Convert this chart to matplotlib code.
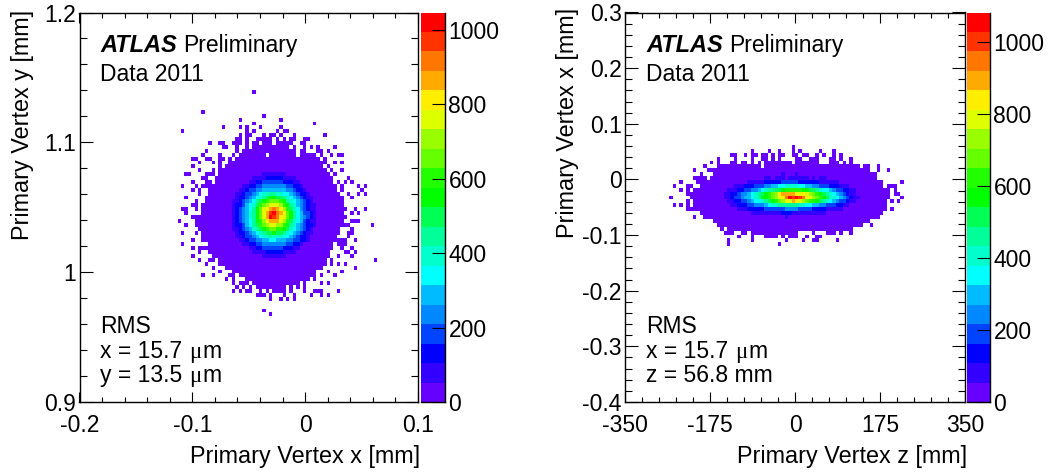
import numpy as np
import matplotlib
matplotlib.use("Agg")
import matplotlib.pyplot as plt
from matplotlib.colors import ListedColormap, BoundaryNorm
from matplotlib.ticker import MultipleLocator

plt.rcParams['font.family'] = ['Liberation Sans', 'DejaVu Sans']
W, H = 1050, 473

BAND_COLORS = ['#6600ff', '#3300ff', '#0000ff', '#0044ff', '#0088ff', '#00bbff', '#00ffff',
               '#00ffcc', '#00ff99', '#00ff55', '#00ff00', '#22ff00', '#66ff00', '#99ff00',
               '#ddff00', '#ffee00', '#ffaa00', '#ff7700', '#ff3300', '#ff0000']
BAND_CODES = '0123456789abcdefghij'
LEFT_ZMAX = 1046
RIGHT_ZMAX = 1083

D = '..........'
F = '##########'

# Left panel, cells: first row is bin 79 counted from the bottom,
# first character is bin 29 counted from the left.
LEFT_TOP_ROW, LEFT_FIRST_COL = 79, 29
LEFT_MASK = [
    D + D + '..#.......', '', '', '', '',
    '.......#..',
    D + D + '.....#....',
    D + '........#.' + D + '#.........',
    D + D + '..#.......' + D + '#.........',
    D + '...#....#.' + '#...#.....' + '#.........',
    '.#........' + D + '#.#......#' + '.##.......',
    D + '........#.' + '##...#.##.' + '#...#.....' + '...#......',
    D + '.......##.' + '#..#####.#' + '.#.##..##.',
    '.........#' + '..##..###.' + '#.##.###.#' + '####..##..',
    D + '...##..#..' + '#.########' + '###.#..#.#' + '.#....#...',
    '........#.' + '.......#.#' + F + '#####.##..' + '.##.#.....',
    '.......#..' + '..#...#.##' + '######.###' + '#####.####' + '#.#..#.##.',
    '....##..##' + '..##.#.###' + F + F + '##.#......',
    '......#...' + '#.#..#####' + F + F + '####..#.#.',
    '....#.....' + '..#.######' + F + F + '###.#.....',
    '......#...' + '#.########' + F + F + '####.#..#.',
    '..##....##' + '#.########' + F + F + '#####.#...',
    '.......##.' + '.#########' + F + F + '######....' + '#........',
    '....#...##' + '.#########' + F + F + '######.#.#' + '.#.......',
    '.#...#.###' + F + F + F + '#######.#.' + '...#.#...',
    '....#.#..#' + F + F + F + '#######.#.' + '....#....',
    '......#..#' + F + F + F + '########..' + '#..#.#...',
    '..#.....##' + F + F + F + '#########.' + '.#.......',
    '.....#..##' + F + F + F + '#########.',
    '....##.###' + F + F + F + '#########.',
    '.##..#.###' + F + F + F + F + '..#..#...',
    '..#....###' + F + F + F + '#########.' + '.#.#.....',
    '....######' + F + F + F + F,
    '#....#####' + F + F + F + '#########.' + '.###.....',
    '..#..#####' + F + F + F + F + '#......#.',
    '......####' + F + F + F + '########..' + '.#.......',
    '.#...#.###' + F + F + F + '########..' + '##.......',
    '.......###' + F + F + F + '#######...' + '#........',
    '....#..###' + F + F + F + F + '..#......',
    '.#.......#' + F + F + F + '######.###',
    '....#.####' + F + F + F + '######..#.' + '.#.......',
    '......#..#' + F + F + F + '#####....#' + '#.#......',
    '....#.....' + F + F + F + '#####..#..' + '.#.......',
    '......#..#' + '#.########' + F + F + '####.#....' + '........#',
    '........#.' + '..########' + F + F + '####.#.#.#',
    D + '#...######' + F + F + '###.......' + '..#......',
    D + '..#...####' + F + F + '#...#...#.',
    '.......#..' + '#....##.##' + F + F + '#.#...#...',
    D + '....#.#...' + F + '#########.' + '#.........',
    D + '......#.##' + '#.########' + '######.#..' + '..#.#.....',
    D + '.......#.#' + '.#.#######' + '##.#.#.#..',
    D + '......#.#.' + '##..#.#.##' + '##.#...#..' + '###....#..',
    D + D + '...###.#..' + '.#..#....#' + '..#.#.....',
    D + D + '.......#..' + '#.#.#.....',
    '', '',
    D + D + '.....#....',
    D + D + '.......#..',
]
LEFT_CORE_TOP_ROW, LEFT_CORE_FIRST_COL = 58, 44
LEFT_CORE = [
    '0000000000 1111111 0000000000',
    '0000000 1111 22222 1111 0000000',
    '000000 11 22 333333 222 11 000000',
    '0000 11 22 33 4444444 33 22 1 00000',
    '000112334 4555555 5443 22 1 0000',
    '001123345 677887766 5432 21 000',
    '00122345 6789aa998 7654321 100',
    '0112345 689abccc ba87654321 00',
    '01223567 9bcdeeed ba875432110',
    '01234568 acefghgfd b97643 21 10',
    '01234578 acegijhgeca86533210',
    '01234578 acegjihfeca86543210',
    '01234568 abdfgggedb97653 2110',
    '01223568 9bcdeeddba87 5432210',
    '01123457 89abccbba97654321 00',
    '00122345 67899a9987654321 100',
    '001123345 677877766 5432 21 000',
    '00011233 44556655 54433221 0000',
    '0000 11 22 33 4444444 33 22 1 00000',
    '000000 11 22 333333 222 11 000000',
    '0000000 1111 22222 1111 0000000',
    '0000000000 1111111 0000000000',
]

# Right panel: first row is bin 65 from the bottom, first character is bin 13 from the left.
RIGHT_TOP_ROW, RIGHT_FIRST_COL = 65, 13
RIGHT_MASK = [
    D + D + D + '......#...',
    D + D + '....#....#' + '..#...#.#.' + '....#...#.',
    D + '........##' + '..#.##.##.' + '#.##..##.#' + '#..#.#..#.' + '#.........',
    D + '....#....#' + '....#..##.' + '#.#....##.' + '.###...##.' + '#..#......',
    D + '..#.#...##' + '.##.#.#.##' + '######.###' + '####...###' + '.#.#......',
    D + '#...######' + '#######.##' + F + F + '######.##.' + '.#.......',
    '.......#..' + '.#########' + F + F + F + '#########.' + '.#..#....',
    '.........#' + '...#######' + F + F + F + F + '#........',
    '.......###' + '#.########' + F + F + F + F + '#........',
    '...#....##' + F + F + F + F + F + '###.....#',
    '.#...##..#' + F + F + F + F + F + '###.###..',
    '...#.#.###' + F + F + F + F + F + '#####.#..',
    '.....#####' + F + F + F + F + F + '#####.##.',
    '#.....####' + F + F + F + F + F + '#####...#',
    '.....#.###' + F + F + F + F + F + '####.#.#.',
    '.#.#.#.###' + F + F + F + F + F + '####.....',
    '.....#####' + F + F + F + F + F + '####.#...',
    '.........#' + F + F + F + F + F + '###......',
    '.......#..' + F + F + F + F + F + '##.......',
    D + '...#######' + F + F + F + '#########.',
    D + '....######' + F + F + F + '#######..#',
    D + '.....#.###' + F + F + F + '####......',
    D + '......###.' + '.##.######' + '########..' + '..#...###.' + '#..#......',
    D + D + '#...#...##' + '##.#.###..' + '#..##.....',
    D + '.......#..' + '....#.....' + '....#....#' + '..##.....#',
    D + '.......#..' + D + '..#.......',
]
RIGHT_CORE_TOP_ROW, RIGHT_CORE_FIRST_COL = 58, 29
RIGHT_CORE = [
    '0000000000 0000000100 0100000000 0000000000',
    '0000000000 0011011101 1111101011 0000000000',
    '0000000111 1122222333 3322222211 1111000000',
    '0001112223 3344556677 7766554433 3222111000',
    '0111223344 5678899abb bbbaa99876 6543322110',
    '1122344567 89abcdfggg gfefedcba9 8765432110',
    '1123345567 8aabcdefhj ijihfedcba 9776543211',
    '0112233456 6789abcdee gfedcbba98 7654332110',
    '0011222334 4456778888 8877665544 3332211000',
    '0000111222 2233333344 4433332222 1111100000',
    '0000000011 1111111222 1111111111 0000000000',
    '0000000000 0000000010 0000000000 0000000000',
]

LEFT_X_TICKS = [-0.2, -0.1, 0, 0.1]
LEFT_X_LABELS = ['-0.2', '-0.1', '0', '0.1']
LEFT_Y_TICKS = [0.9, 1.0, 1.1, 1.2]
LEFT_Y_LABELS = ['0.9', '1', '1.1', '1.2']
RIGHT_X_TICKS = [-350, -175, 0, 175, 350]
RIGHT_X_LABELS = ['-350', '-175', '0', '175', '350']
RIGHT_Y_TICKS = [-0.4, -0.3, -0.2, -0.1, 0, 0.1, 0.2, 0.3]
RIGHT_Y_LABELS = ['-0.4', '-0.3', '-0.2', '-0.1', '0', '0.1', '0.2', '0.3']
CBAR_TICKS = [0, 200, 400, 600, 800, 1000]

BLACK_LW = 1.0
TICK_LW = 0.8
FS = 16.5
TITLE_FS = 16.8
cmap = ListedColormap(BAND_COLORS)


def axes_px(x0, y0, x1, y1):
    return fig.add_axes([x0 / W, 1 - y1 / H, (x1 - x0) / W, (y1 - y0) / H])


def grid_from(mask, top, first, core, core_top, core_first):
    grid = np.full((100, 100), np.nan)
    for k, row in enumerate(mask):
        row = row.replace(' ', '')
        for c, ch in enumerate(row):
            if ch == '#':
                grid[top - k, first + c] = 0
    for k, row in enumerate(core):
        row = row.replace(' ', '')
        for c, ch in enumerate(row):
            if ch != '0':
                grid[core_top - k, core_first + c] = BAND_CODES.index(ch)
    return grid


def panel(box, cbar_box, grid, xlim, ylim, xt, xl, yt, yl, xminor, yminor, zmax):
    x0, y0, x1, y1 = box
    ax = axes_px(x0, y0, x1, y1)
    step = zmax / 20
    bounds = np.arange(21) * step
    norm = BoundaryNorm(bounds, 20)
    xe = np.linspace(xlim[0], xlim[1], 101)
    ye = np.linspace(ylim[0], ylim[1], 101)
    counts = (grid + 0.5) * step
    ax.pcolormesh(xe, ye, np.ma.masked_invalid(counts), cmap=cmap, norm=norm,
                  linewidth=0, rasterized=True)
    ax.set_xlim(xlim)
    ax.set_ylim(ylim)
    ax.set_xticks(xt)
    ax.set_xticklabels(xl, fontsize=FS)
    ax.set_yticks(yt)
    ax.set_yticklabels(yl, fontsize=FS)
    ax.xaxis.set_minor_locator(MultipleLocator(xminor))
    ax.yaxis.set_minor_locator(MultipleLocator(yminor))
    ax.tick_params(axis='x', which='major', direction='in', top=True, bottom=True, length=7,
                   width=TICK_LW, pad=9)
    ax.tick_params(axis='x', which='minor', direction='in', top=True, bottom=True, length=3.5,
                   width=TICK_LW)
    ax.tick_params(axis='y', which='major', direction='in', left=True, right=True, length=9.5,
                   width=TICK_LW, pad=2.5)
    ax.tick_params(axis='y', which='minor', direction='in', left=True, right=True, length=4.7,
                   width=TICK_LW)
    for s in ax.spines.values():
        s.set_linewidth(BLACK_LW)

    cx0, cy0, cx1, cy1 = cbar_box
    cax = axes_px(cx0, cy0, cx1, cy1)
    vals = (np.arange(20) + 0.5)[:, None] * step
    cax.pcolormesh([0, 1], bounds, vals, cmap=cmap, norm=norm)
    cax.set_xlim(0, 1)
    cax.set_ylim(0, zmax)
    cax.set_xticks([])
    cax.yaxis.tick_right()
    cax.set_yticks(CBAR_TICKS)
    cax.set_yticklabels([str(t) for t in CBAR_TICKS], fontsize=FS)
    cax.tick_params(axis='y', direction='in', length=9.5, width=TICK_LW, pad=2.5)
    for side in ('left', 'top'):
        cax.spines[side].set_visible(False)
    for side in ('right', 'bottom'):
        cax.spines[side].set_linewidth(BLACK_LW)


def label(px, py, s, **kw):
    kw.setdefault('fontsize', FS)
    kw.setdefault('va', 'baseline')
    fig.text(px / W, 1 - py / H, s, **kw)


def micron(px, py, head):
    label(px, py, head)
    label(px + 89.5, py, '\u03bc', family=['Liberation Serif'], fontsize=16.5)
    label(px + 102, py, 'm')


fig = plt.figure(figsize=(W / 100, H / 100), dpi=100, facecolor='white')

left_grid = grid_from(LEFT_MASK, LEFT_TOP_ROW, LEFT_FIRST_COL, LEFT_CORE, LEFT_CORE_TOP_ROW, LEFT_CORE_FIRST_COL)
right_grid = grid_from(RIGHT_MASK, RIGHT_TOP_ROW, RIGHT_FIRST_COL, RIGHT_CORE, RIGHT_CORE_TOP_ROW, RIGHT_CORE_FIRST_COL)

panel((79.5, 12.5, 418, 402), (421, 12.5, 445, 402), left_grid, (-0.2, 0.1), (0.9, 1.2),
      LEFT_X_TICKS, LEFT_X_LABELS, LEFT_Y_TICKS, LEFT_Y_LABELS, 0.02, 0.02, LEFT_ZMAX)
panel((625, 12.5, 965, 402), (967, 12.5, 990, 402), right_grid, (-350, 350), (-0.4, 0.3),
      RIGHT_X_TICKS, RIGHT_X_LABELS, RIGHT_Y_TICKS, RIGHT_Y_LABELS, 35, 0.02, RIGHT_ZMAX)

# axis titles
label(420, 463, 'Primary Vertex x [mm]', ha='right', fontsize=TITLE_FS)
label(967, 463, 'Primary Vertex z [mm]', ha='right', fontsize=TITLE_FS)
label(29, 10, 'Primary Vertex y [mm]', rotation=90, ha='right', va='baseline',
      rotation_mode='anchor', fontsize=TITLE_FS)
label(574, 8, 'Primary Vertex x [mm]', rotation=90, ha='right', va='baseline',
      rotation_mode='anchor', fontsize=TITLE_FS)

for tx, px in ((100, 183), (646, 729)):
    label(tx, 52, 'ATLAS', fontweight='bold', fontstyle='italic', fontsize=17)
    label(px, 52, 'Preliminary')
    label(tx, 81, 'Data 2011')
    label(tx, 333, 'RMS')
micron(100, 358, 'x = 15.7')
micron(100, 382, 'y = 13.5')
micron(646, 358, 'x = 15.7')
label(646, 382, 'z = 56.8 mm')

fig.savefig('out.png', dpi=100, facecolor='white')
